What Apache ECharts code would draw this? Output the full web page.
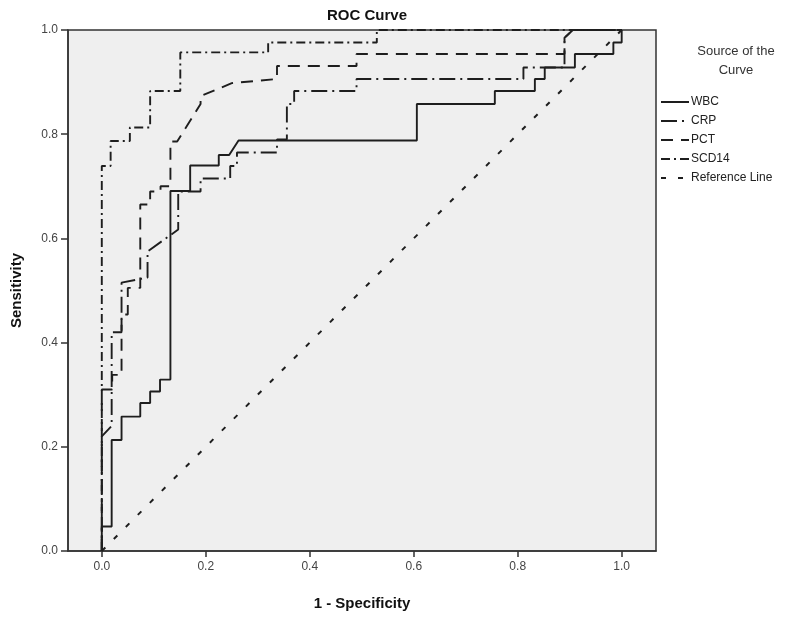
<!DOCTYPE html>
<html>
<head>
<meta charset="utf-8">
<script src="https://cdn.jsdelivr.net/npm/echarts@6/dist/echarts.min.js"></script>
<style>
  html, body { margin: 0; padding: 0; background: #ffffff; }
  #chart { width: 800px; height: 619px; }
</style>
</head>
<body>
<div id="chart"></div>
<script>
// ---- data (1 - specificity, sensitivity) ----
const tickValues = [0, 0.2, 0.4, 0.6, 0.8, 1.0];

const wbcFpr = [0, 0, 0.019, 0.019, 0.038, 0.038, 0.074, 0.074, 0.093, 0.093, 0.112, 0.112, 0.132, 0.132, 0.170, 0.170, 0.225, 0.225, 0.245, 0.263, 0.606, 0.606, 0.756, 0.756, 0.833, 0.833, 0.852, 0.852, 0.910, 0.910, 0.984, 0.984, 1.0, 1.0];
const wbcTpr = [0, 0.047, 0.047, 0.213, 0.213, 0.258, 0.258, 0.284, 0.284, 0.306, 0.306, 0.329, 0.329, 0.691, 0.691, 0.740, 0.740, 0.760, 0.760, 0.788, 0.788, 0.858, 0.858, 0.883, 0.883, 0.906, 0.906, 0.928, 0.928, 0.954, 0.954, 0.976, 0.976, 1.0];

const crpFpr = [0, 0, 0.019, 0.019, 0.038, 0.038, 0.088, 0.088, 0.147, 0.147, 0.190, 0.190, 0.247, 0.247, 0.260, 0.260, 0.337, 0.337, 0.356, 0.356, 0.370, 0.370, 0.490, 0.490, 0.811, 0.811, 0.890, 0.890, 0.906, 1.0];
const crpTpr = [0, 0.220, 0.240, 0.420, 0.420, 0.515, 0.525, 0.575, 0.617, 0.690, 0.690, 0.715, 0.715, 0.739, 0.739, 0.765, 0.765, 0.790, 0.790, 0.858, 0.858, 0.883, 0.883, 0.906, 0.906, 0.928, 0.928, 0.985, 1.0, 1.0];

const pctFpr = [0, 0, 0.020, 0.020, 0.038, 0.038, 0.050, 0.050, 0.074, 0.074, 0.093, 0.093, 0.113, 0.113, 0.132, 0.132, 0.145, 0.190, 0.190, 0.250, 0.337, 0.337, 0.490, 0.490, 0.890, 0.890, 0.906, 1.0];
const pctTpr = [0, 0.310, 0.310, 0.338, 0.338, 0.454, 0.454, 0.505, 0.505, 0.665, 0.665, 0.690, 0.690, 0.700, 0.700, 0.786, 0.786, 0.858, 0.873, 0.898, 0.906, 0.931, 0.931, 0.954, 0.954, 0.985, 1.0, 1.0];

const scdFpr = [0, 0, 0.017, 0.017, 0.054, 0.054, 0.093, 0.093, 0.151, 0.151, 0.320, 0.320, 0.529, 0.529, 1.0];
const scdTpr = [0, 0.739, 0.739, 0.787, 0.787, 0.813, 0.813, 0.883, 0.883, 0.957, 0.957, 0.976, 0.976, 1.0, 1.0];

const refFpr = [0, 1];
const refTpr = [0, 1];

const seriesNames = ['WBC', 'CRP', 'PCT', 'SCD14', 'Reference Line'];

function pairs(xs, ys) { return xs.map((x, i) => [x, ys[i]]); }

const lineColor = '#1e1e1e';
const dashStyles = {
  'WBC': 'solid',
  'CRP': [16, 5, 2, 5],
  'PCT': [12, 8],
  'SCD14': [9, 4, 2, 4],
  'Reference Line': [5, 12]
};
const dataSets = {
  'WBC': pairs(wbcFpr, wbcTpr),
  'CRP': pairs(crpFpr, crpTpr),
  'PCT': pairs(pctFpr, pctTpr),
  'SCD14': pairs(scdFpr, scdTpr),
  'Reference Line': pairs(refFpr, refTpr)
};

const chart = echarts.init(document.getElementById('chart'), null, { renderer: 'canvas' });

const font = 'Liberation Sans, Arial, sans-serif';

chart.setOption({
  animation: false,
  backgroundColor: '#ffffff',
  textStyle: { fontFamily: font },
  title: [
    {
      text: 'ROC Curve',
      left: 362, top: 3, textAlign: 'center',
      textStyle: { fontSize: 15, fontWeight: 'bold', color: '#111', fontFamily: font }
    },
    {
      text: 'Source of the\nCurve',
      left: 731, top: 37, textAlign: 'center',
      textStyle: { fontSize: 13, fontWeight: 'normal', color: '#333', lineHeight: 19, fontFamily: font }
    }
  ],
  legend: {
    orient: 'vertical',
    left: 655, top: 91,
    itemWidth: 28, itemHeight: 12, itemGap: 7,
    data: seriesNames,
    itemStyle: { color: 'transparent', borderColor: 'transparent', borderWidth: 0, opacity: 0 },
    textStyle: { fontSize: 12, color: '#222', padding: [0, 0, 0, -3], fontFamily: font },
    selectedMode: false
  },
  grid: {
    left: 68, right: 144, top: 30, bottom: 68,
    show: true, backgroundColor: '#efefef', borderColor: '#333', borderWidth: 1.5
  },
  xAxis: {
    type: 'value', min: -0.065, max: 1.066,
    name: '1 - Specificity', nameLocation: 'middle', nameGap: 45,
    nameTextStyle: { fontSize: 15, fontWeight: 'bold', color: '#111', fontFamily: font },
    axisLine: { onZero: false, lineStyle: { color: '#333', width: 1.5 } },
    axisTick: { customValues: tickValues, length: 6, lineStyle: { color: '#333', width: 1.5 } },
    axisLabel: { customValues: tickValues, formatter: v => v.toFixed(1), fontSize: 12, color: '#444', margin: 10 },
    splitLine: { show: false }
  },
  yAxis: {
    type: 'value', min: 0, max: 1, interval: 0.2,
    name: 'Sensitivity', nameLocation: 'middle', nameGap: 44,
    nameTextStyle: { fontSize: 15, fontWeight: 'bold', color: '#111', fontFamily: font },
    axisLine: { show: true, onZero: false, lineStyle: { color: '#333', width: 1.5 } },
    axisTick: { show: true, length: 7, lineStyle: { color: '#333', width: 1.5 } },
    axisLabel: { formatter: v => v.toFixed(1), fontSize: 12, color: '#444', margin: 10 },
    splitLine: { show: false }
  },
  series: seriesNames.map(name => ({
    name: name,
    type: 'line',
    data: dataSets[name],
    symbol: 'none',
    clip: false,
    lineStyle: { color: lineColor, width: name === 'Reference Line' ? 2 : 1.9, type: dashStyles[name] },
    itemStyle: { color: lineColor },
    z: name === 'WBC' ? 5 : 3
  }))
});
</script>
</body>
</html>
